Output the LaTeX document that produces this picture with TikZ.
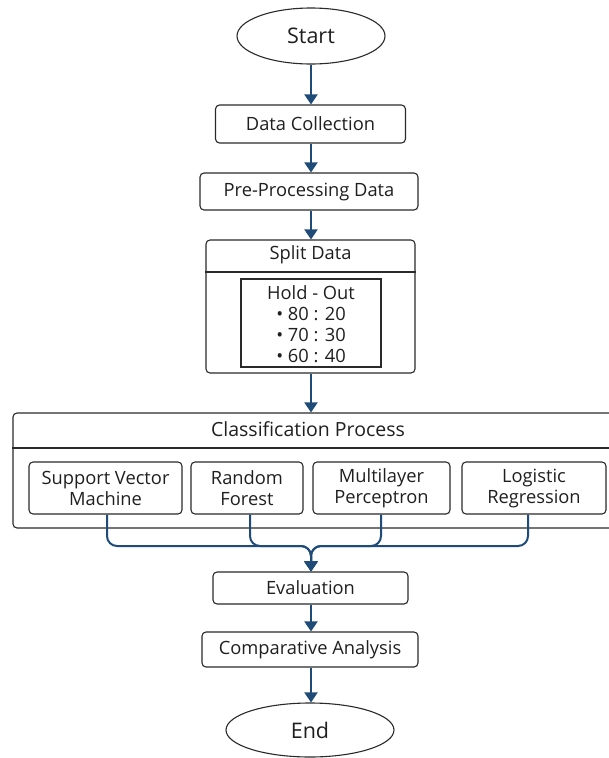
\documentclass[tikz,border=0pt]{standalone}
\usepackage{fontspec}
\setmainfont{Open Sans}
\usetikzlibrary{arrows.meta,shapes.geometric}
\definecolor{arr}{HTML}{1E4B78}
\definecolor{edge}{HTML}{2A2A2A}
\definecolor{txt}{HTML}{1F1F1F}
\begin{document}
\begin{tikzpicture}[x=1pt,y=-1pt,
  box/.style={draw=edge, line width=1.1pt, rounded corners=4pt, inner sep=0pt, text=txt, font=\fontsize{18.3}{21}\selectfont, align=center},
  plain/.style={inner sep=0pt, text=txt, font=\fontsize{18.3}{21}\selectfont, align=center},
  oval/.style={draw=edge, line width=1.1pt, ellipse, inner sep=0pt, text=txt, font=\fontsize{21.5}{24}\selectfont},
  conn/.style={draw=arr, line width=2pt, -{Triangle[width=13pt,length=10pt]}},
  divider/.style={draw=edge, line width=1.1pt}]
\useasboundingbox (0,0) rectangle (609,758);

\node[oval, minimum width=148pt, minimum height=56pt] (start) at (311,36) {Start};
\node[box, minimum width=190pt, minimum height=38pt] (dc) at (310.5,124) {Data Collection};
\node[box, minimum width=218pt, minimum height=37pt] (pp) at (309,191.5) {Pre-Processing Data};

\node[box, minimum width=209pt, minimum height=133pt] (split) at (310.5,306.5) {};
\node[plain] (splitt) at (310.5,255) {Split Data};
\draw[divider] (split.west |- 0,272) -- (split.east |- 0,272);
\node[box, rounded corners=0pt, minimum width=140pt, minimum height=88pt] (hold) at (311,323) {};
\node[plain] (holdt) at (311,324) {Hold - Out\\• 80 : 20\\• 70 : 30\\• 60 : 40};

\node[box, minimum width=602pt, minimum height=115pt] (cls) at (314,470.5) {};
\node[plain, font=\fontsize{19.5}{22}\selectfont] (clst) at (308,429) {Classification Process};
\draw[divider] (cls.west |- 0,448) -- (cls.east |- 0,448);

\node[box, minimum width=153pt, minimum height=52pt] (svm) at (105.5,488) {Support Vector\\Machine};
\node[box, minimum width=112pt, minimum height=52pt] (rf) at (247,488) {Random\\Forest};
\node[box, minimum width=137pt, minimum height=52pt] (mlp) at (381.5,488) {Multilayer\\Perceptron};
\node[box, minimum width=144pt, minimum height=52pt] (lr) at (534,488) {Logistic\\Regression};

\node[box, minimum width=195pt, minimum height=32pt] (eval) at (310.5,588) {Evaluation};
\node[box, minimum width=216pt, minimum height=35pt] (comp) at (310,649.5) {Comparative Analysis};
\node[oval, minimum width=168pt, minimum height=54pt] (end) at (310,730) {End};

\coordinate (merge) at (311,546);

\draw[conn] (start.south -| 311,0) -- (dc.north -| 311,0);
\draw[conn] (dc.south -| 311,0) -- (pp.north -| 311,0);
\draw[conn] (pp.south -| 311,0) -- (split.north -| 311,0);
\draw[conn] (split.south -| 311,0) -- (cls.north -| 311,0);

\draw[conn, rounded corners=10pt] ([xshift=1.5pt]svm.south) |- (merge) -- (eval.north -| merge);
\draw[conn, rounded corners=10pt] ([xshift=3pt]rf.south) |- (merge) -- (eval.north -| merge);
\draw[conn, rounded corners=10pt] ([xshift=-0.5pt]mlp.south) |- (merge) -- (eval.north -| merge);
\draw[conn, rounded corners=10pt] ([xshift=-6pt]lr.south) |- (merge) -- (eval.north -| merge);

\draw[conn] (eval.south -| 311,0) -- (comp.north -| 311,0);
\draw[conn] (comp.south -| 311,0) -- (end.north -| 311,0);
\end{tikzpicture}
\end{document}
